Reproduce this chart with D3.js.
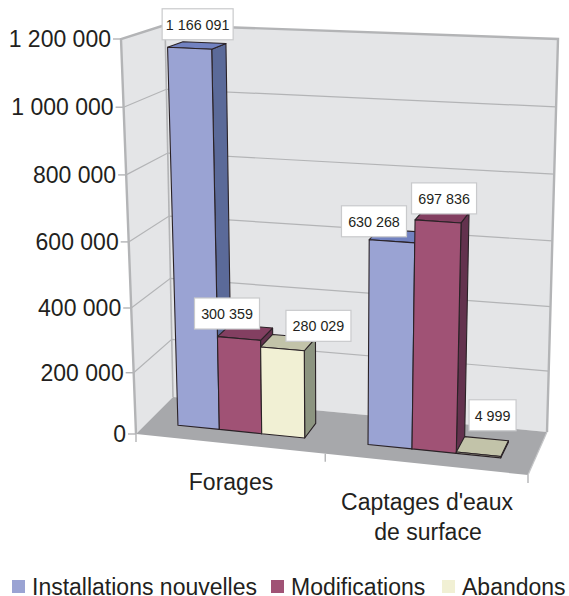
<!DOCTYPE html>
<html lang="fr">
<head>
<meta charset="utf-8">
<title>Forages et captages</title>
<style>
  html, body { margin: 0; padding: 0; background: #fff; }
  svg { display: block; }
  text { font-family: "Liberation Sans", Arial, sans-serif; fill: #231f20; }
</style>
<script src="https://cdn.jsdelivr.net/npm/d3@7/dist/d3.min.js"></script>
</head>
<body>
<svg id="chart" width="569" height="596"></svg>
<script>
// Chart data
const categories = ["Forages", "Captages d'eaux de surface"];
const seriesNames = ["Installations nouvelles", "Modifications", "Abandons"];
const installations = [1166091, 630268];
const modifications = [300359, 697836];
const abandons = [280029, 4999];
const seriesValues = [installations, modifications, abandons];
const yTicks = [0, 200000, 400000, 600000, 800000, 1000000, 1200000];

// Colours per series: front, side and top faces
const frontColors = ["#9aa3d3", "#a05275", "#f1f0d4"];
const sideColors = ["#5b6a99", "#63324e", "#8c9480"];
const topColors = ["#7282c0", "#833f61", "#c2c3a9"];

// Corners of the 3D box: [x, y] on the page, named by side/depth/height
const box = {
  flb: [136, 434], flt: [121, 39],
  blb: [173, 397], blt: [165, 25],
  brb: [547, 432], brt: [558, 39],
  frb: [528, 475], frt: [543, 58]
};

const lerp = (a, b, t) => a + (b - a) * t;
const lerpPt = (p, q, t) => [lerp(p[0], q[0], t), lerp(p[1], q[1], t)];

// Maps u (left-right), d (front-back), w (height), all 0..1, into the box
function project(u, d, w) {
  const lb = lerpPt(box.flb, box.blb, d), lt = lerpPt(box.flt, box.blt, d);
  const rb = lerpPt(box.frb, box.brb, d), rt = lerpPt(box.frt, box.brt, d);
  return lerpPt(lerpPt(lb, rb, u), lerpPt(lt, rt, u), w);
}

// Scales; the power scales stand in for perspective foreshortening
const yScale = d3.scalePow().exponent(1.04).domain([0, 1200000]).range([0, 1]);
const xWarp = d3.scalePow().exponent(1.04).domain([0, 1]).range([0, 1]);
const x0 = d3.scaleBand().domain(categories).range([0, 0.993]);
const x1 = d3.scaleBand().domain(seriesNames).range([0.086, 0.4205]);
const depth = { front: 0.32, back: 0.69 };

const fmt = d3.formatLocale({ decimal: ",", thousands: " ", grouping: [3], currency: ["", " €"] }).format(",d");
const line = d3.line();
const svg = d3.select("#chart");

const face = (pts, fill, stroke, sw) => svg.append("path")
  .attr("d", line(pts) + "Z")
  .attr("fill", fill)
  .attr("stroke", stroke || "none")
  .attr("stroke-width", sw || 0)
  .attr("stroke-linejoin", "round");

// Walls and floor
face([box.blt, box.brt, box.brb, box.blb], "#e4e5e7");
face([box.flt, box.blt, box.blb, box.flb], "#e4e5e7");
face([box.flb, box.blb, box.brb, box.frb], "#a7a8ab");

// Gridlines along the left wall and the back wall
const gridColor = "#b3b4b6";
yTicks.slice(1, -1).forEach(v => {
  const w = yScale(v);
  svg.append("path")
    .attr("d", line([project(0, 0, w), project(0, 1, w), project(1, 1, w)]))
    .attr("fill", "none").attr("stroke", gridColor).attr("stroke-width", 1.2);
});

// Wall outlines
svg.append("path")
  .attr("d", line([box.flb, box.flt, box.blt, box.brt, box.brb]))
  .attr("fill", "none").attr("stroke", gridColor).attr("stroke-width", 2.4);
svg.append("path")
  .attr("d", line([box.blt, box.blb]))
  .attr("fill", "none").attr("stroke", gridColor).attr("stroke-width", 1.6);
svg.append("path")
  .attr("d", line([box.brb, box.frb]))
  .attr("fill", "none").attr("stroke", "#c4c5c7").attr("stroke-width", 1.2);

// Value axis: ticks and labels follow the slanted front edge
yTicks.forEach(v => {
  const p = project(0, 0, yScale(v));
  svg.append("path").attr("d", line([[p[0] - 8, p[1]], p]))
    .attr("stroke", gridColor).attr("stroke-width", 1.4);
  svg.append("text")
    .attr("x", p[0] - 10).attr("y", p[1] + 8)
    .attr("text-anchor", "end").attr("font-size", 23)
    .text(fmt(v));
});

// Category tick marks below the front edge of the floor
[0, xWarp(x0(categories[1])), 1].forEach(u => {
  const p = project(u, 0, 0);
  svg.append("path").attr("d", line([p, [p[0], p[1] + 8]]))
    .attr("stroke", gridColor).attr("stroke-width", 1.4);
});

// Bars, painted left to right so that neighbours overlap correctly
const outline = "#2a2226";
const barTops = [];
categories.forEach((cat, ci) => {
  seriesNames.forEach((name, si) => {
    const value = seriesValues[si][ci];
    const left = x0(cat) + x1(name);
    const u0 = xWarp(left), u1 = xWarp(left + x1.bandwidth());
    const w = yScale(value);
    const P = (u, d, h) => project(u, d, h);
    face([P(u1, depth.front, 0), P(u1, depth.back, 0), P(u1, depth.back, w), P(u1, depth.front, w)], sideColors[si], outline, 1.1);
    face([P(u0, depth.front, w), P(u0, depth.back, w), P(u1, depth.back, w), P(u1, depth.front, w)], topColors[si], outline, 1.1);
    face([P(u0, depth.front, 0), P(u1, depth.front, 0), P(u1, depth.front, w), P(u0, depth.front, w)], frontColors[si], outline, 1.1);
    barTops.push({ value, anchor: P((u0 + u1) / 2, depth.front, w) });
  });
});

// Value labels: white boxes offset from the top of their bar
const labelOffsets = [[8, -24], [-12, -25], [36, -23], [-18, -20], [6, -23], [14, -39]];
barTops.forEach((b, i) => {
  const [dx, dy] = labelOffsets[i];
  const cx = b.anchor[0] + dx, cy = b.anchor[1] + dy;
  const label = fmt(b.value);
  const boxW = b.value < 10000 ? 47 : (b.value >= 1000000 ? 71 : 65);
  const boxH = 31;
  svg.append("rect")
    .attr("x", cx - boxW / 2).attr("y", cy - boxH / 2)
    .attr("width", boxW).attr("height", boxH)
    .attr("fill", "#fff").attr("stroke", "#c9cacc").attr("stroke-width", 1.2);
  svg.append("text")
    .attr("x", cx).attr("y", cy + 5.5)
    .attr("text-anchor", "middle").attr("font-size", 14.3)
    .text(label);
});

// Category labels
svg.append("text").attr("x", 231).attr("y", 490)
  .attr("text-anchor", "middle").attr("font-size", 23).text("Forages");
svg.append("text").attr("x", 427).attr("y", 510)
  .attr("text-anchor", "middle").attr("font-size", 23).text("Captages d'eaux");
svg.append("text").attr("x", 428).attr("y", 540)
  .attr("text-anchor", "middle").attr("font-size", 23).text("de surface");

// Legend
const legendX = [12, 271, 442];
seriesNames.forEach((name, i) => {
  svg.append("rect").attr("x", legendX[i]).attr("y", 580)
    .attr("width", 13).attr("height", 13).attr("fill", frontColors[i]);
  svg.append("text").attr("x", legendX[i] + 20).attr("y", 595)
    .attr("font-size", 23).text(name);
});
</script>
</body>
</html>
